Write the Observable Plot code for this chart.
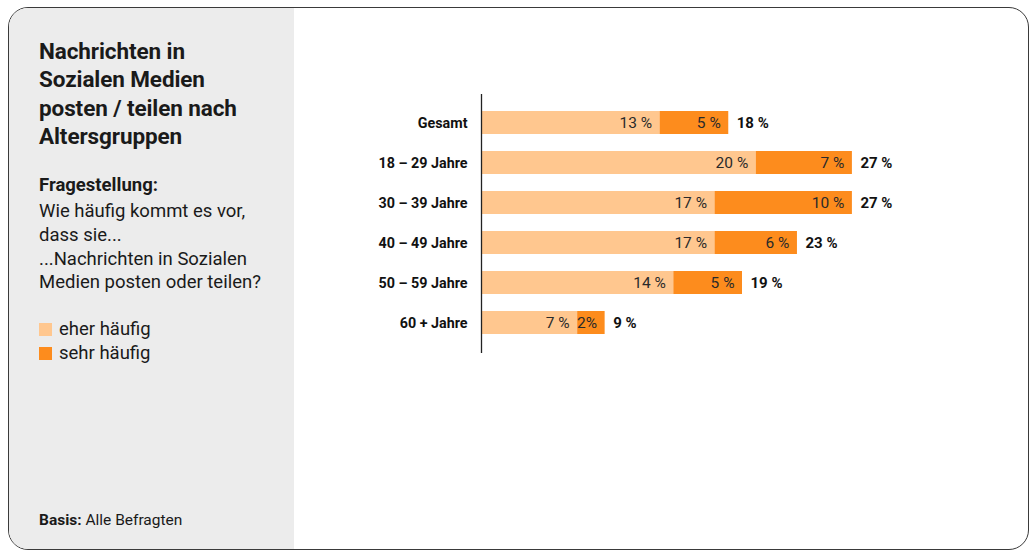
<!DOCTYPE html>
<html>
<head>
<meta charset="utf-8">
<script src="https://cdn.jsdelivr.net/npm/d3@7"></script>
<script src="https://cdn.jsdelivr.net/npm/@observablehq/plot@0.6"></script>
<style>
  html, body { margin: 0; padding: 0; background: #ffffff; }
  body { width: 1032px; height: 552px; position: relative; overflow: hidden; font-family: Roboto, "Noto Sans", sans-serif; color: #1a1a1a; }
  .card { position: absolute; left: 8px; top: 7px; width: 1019px; height: 541px; border: 1.5px solid #3a3a3a; border-radius: 20px; overflow: hidden; background: #fff; }
  .panel { position: absolute; left: 0; top: 0; width: 285px; height: 100%; background: #ececec; }
  .title { position: absolute; left: 39px; top: 37px; font-size: 22.5px; font-weight: 700; line-height: 28.3px; letter-spacing: -0.1px; }
  .question { position: absolute; left: 39px; top: 174px; font-size: 18.5px; line-height: 23.7px; }
  .question .q { font-weight: 700; }
  .question .body { margin-top: 2.5px; }
  .legend { position: absolute; left: 39px; top: 317px; font-size: 18.5px; line-height: 24px; }
  .legend div { display: flex; align-items: center; }
  .legend span.sw { display: inline-block; width: 13px; height: 13px; margin-right: 7px; }
  .basis { position: absolute; left: 39px; top: 511px; font-size: 15.5px; }
  #chart { position: absolute; left: 295px; top: 80px; }
  #chart g[aria-label="y-axis tick label"] text { font-weight: 700; }
</style>
</head>
<body>
<div class="card"><div class="panel"></div></div>
<div class="title">Nachrichten in<br>Sozialen Medien<br>posten / teilen nach<br>Altersgruppen</div>
<div class="question"><div class="q">Fragestellung:</div><div class="body">Wie häufig kommt es vor,<br>dass sie...<br>...Nachrichten in Sozialen<br>Medien posten oder teilen?</div></div>
<div class="legend" id="legend"></div>
<div class="basis"><b>Basis:</b> Alle Befragten</div>
<div id="chart"></div>
<script>
const categories = ["Gesamt", "18 – 29 Jahre", "30 – 39 Jahre", "40 – 49 Jahre", "50 – 59 Jahre", "60 + Jahre"];
const seriesNames = ["eher häufig", "sehr häufig"];
const seriesColors = ["#ffc78f", "#fd8c1d"];
const eherValues = [13, 20, 17, 17, 14, 7];
const sehrValues = [5, 7, 10, 6, 5, 2];
const eherLabels = ["13 %", "20 %", "17 %", "17 %", "14 %", "7 %"];
const sehrLabels = ["5 %", "7 %", "10 %", "6 %", "5 %", "2%"];
const totalValues = [18, 27, 27, 23, 19, 9];
const totalLabels = ["18 %", "27 %", "27 %", "23 %", "19 %", "9 %"];

const rows = [];
categories.forEach((c, i) => {
  rows.push({group: c, series: seriesNames[0], value: eherValues[i], label: eherLabels[i]});
  rows.push({group: c, series: seriesNames[1], value: sehrValues[i], label: sehrLabels[i]});
});
const totals = categories.map((c, i) => ({group: c, value: totalValues[i], label: totalLabels[i]}));

const legend = document.getElementById("legend");
seriesNames.forEach((s, i) => {
  const d = document.createElement("div");
  d.innerHTML = `<span class="sw" style="background:${seriesColors[i]}"></span>${s}`;
  legend.appendChild(d);
});

const chart = Plot.plot({
  width: 720,
  height: 290,
  marginLeft: 186,
  marginRight: 12,
  marginTop: 14,
  marginBottom: 17,
  style: {fontFamily: "Roboto, 'Noto Sans', sans-serif", fontSize: "14px", color: "#1a1a1a", background: "transparent"},
  x: {domain: [0, 38], axis: null},
  y: {domain: categories, paddingInner: 0.43, paddingOuter: 0.43, align: 0.46, label: null, axis: null},
  color: {domain: seriesNames, range: seriesColors},
  marks: [
    Plot.barX(rows, {y: "group", x: "value", fill: "series"}),
    Plot.text(rows, Plot.stackX2({y: "group", x: "value", z: "series", text: "label", textAnchor: "end", dx: -8, fill: "#2a2a2a", fontSize: 15.5})),
    Plot.text(totals, {y: "group", x: "value", text: "label", textAnchor: "start", dx: 8, fill: "#111", fontWeight: 700, fontSize: 15}),
    Plot.axisY({tickSize: 0, tickPadding: 14, fontWeight: 700, fontSize: 14.3, fill: "#111", label: null}),
    Plot.ruleX([0], {stroke: "#222", strokeWidth: 1.3})
  ]
});
document.getElementById("chart").appendChild(chart);
</script>
</body>
</html>
